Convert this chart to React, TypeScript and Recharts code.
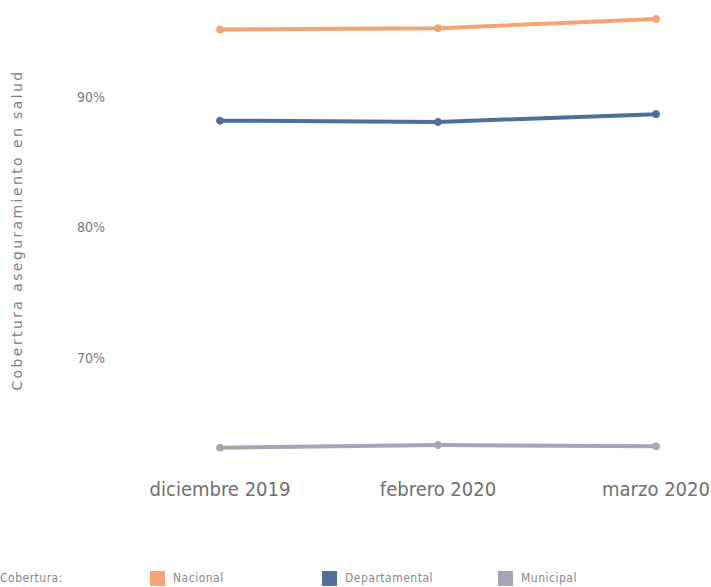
import { LineChart, Line, XAxis, YAxis } from 'recharts';

const categories = ['diciembre 2019', 'febrero 2020', 'marzo 2020'];
const nacional = [95.2, 95.3, 96.0];
const departamental = [88.2, 88.1, 88.7];
const municipal = [63.1, 63.3, 63.2];
const yTicks = [70, 80, 90];

const SERIES = [
  { key: 'nacional', name: 'Nacional', color: '#f7a373' },
  { key: 'departamental', name: 'Departamental', color: '#4f6f9b' },
  { key: 'municipal', name: 'Municipal', color: '#a4a6b7' },
];

const data = categories.map((c, i) => ({
  mes: c,
  nacional: nacional[i],
  departamental: departamental[i],
  municipal: municipal[i],
}));

const FONT = '"DejaVu Sans Condensed", "DejaVu Sans", sans-serif';

export default function App() {
  return (
    <div style={{ position: 'relative', width: 711, height: 587, background: '#fff', fontFamily: FONT }}>
      <style>{`body { margin: 0; }`}</style>
      <LineChart width={711} height={587} data={data} margin={{ top: 6, right: 55, left: 0, bottom: 95 }}>
        <XAxis
          dataKey="mes"
          axisLine={false}
          tickLine={false}
          tickSize={0}
          tickMargin={20}
          height={30}
          interval={0}
          tick={{ fill: '#6f6f6f', fontSize: 20, fontFamily: FONT }}
        />
        <YAxis
          type="number"
          domain={[62, 97]}
          ticks={yTicks}
          width={220}
          axisLine={false}
          tickLine={false}
          tickSize={0}
          tickMargin={115}
          tickFormatter={(v) => `${v}%`}
          tick={{ fill: '#7a7a7a', fontSize: 14, fontFamily: FONT }}
        />
        {SERIES.map((s) => (
          <Line
            key={s.key}
            dataKey={s.key}
            name={s.name}
            stroke={s.color}
            strokeWidth={4}
            dot={{ r: 3.5, fill: s.color, stroke: s.color, strokeWidth: 1 }}
            activeDot={false}
            isAnimationActive={false}
          />
        ))}
      </LineChart>

      {/* titulo del eje Y */}
      <div
        style={{
          position: 'absolute',
          left: 17,
          top: 230,
          transform: 'translate(-50%, -50%) rotate(-90deg)',
          whiteSpace: 'nowrap',
          fontSize: 14,
          letterSpacing: 2.4,
          fontFamily: '"DejaVu Sans", sans-serif',
          color: '#808080',
        }}
      >
        Cobertura aseguramiento en salud
      </div>

      {/* leyenda */}
      <div style={{ position: 'absolute', top: 570, left: 0, fontSize: 12, lineHeight: '16px', color: '#888', whiteSpace: 'nowrap', letterSpacing: 0.5 }}>
        Cobertura:
      </div>
      {SERIES.map((s, i) => (
        <div
          key={s.key}
          style={{ position: 'absolute', top: 570, left: [150, 322, 498][i], display: 'flex', alignItems: 'center', fontSize: 12, lineHeight: '16px', color: '#888', whiteSpace: 'nowrap', letterSpacing: 0.5 }}
        >
          <span style={{ display: 'inline-block', width: 15, height: 15, background: s.color, marginRight: 8 }} />
          {s.name}
        </div>
      ))}
    </div>
  );
}
